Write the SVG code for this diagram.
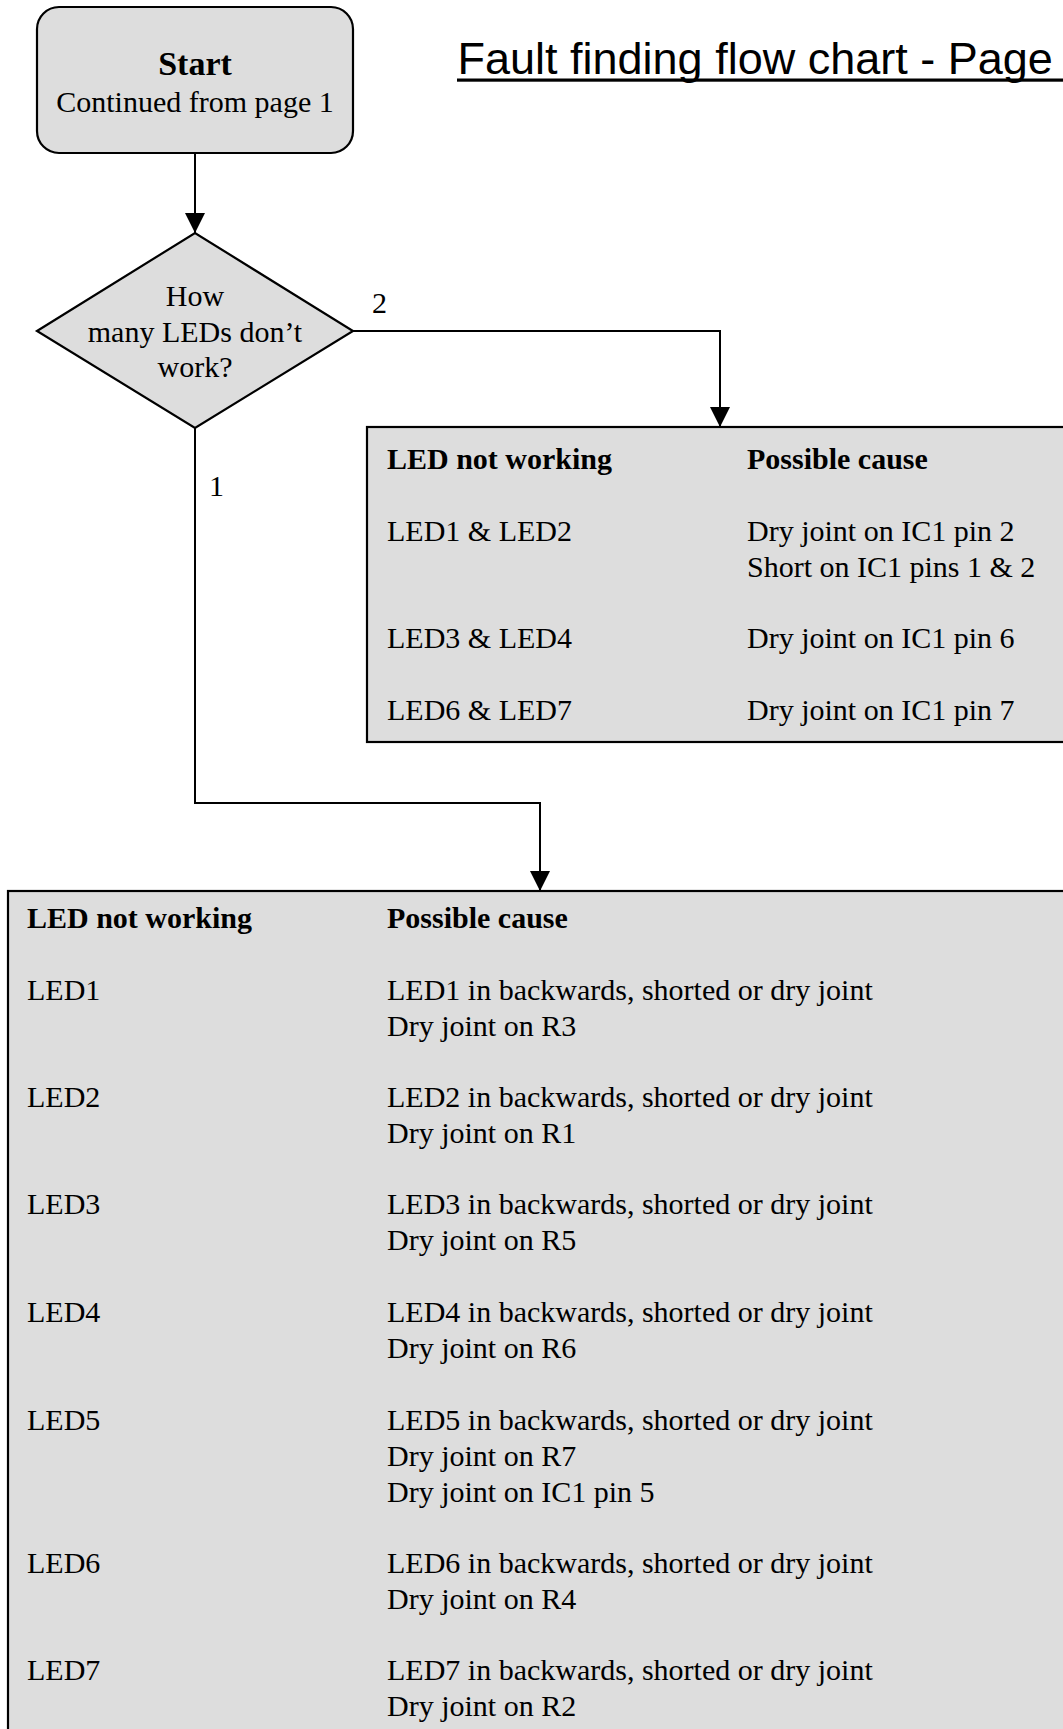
<svg xmlns="http://www.w3.org/2000/svg" width="1063" height="1729" viewBox="0 0 1063 1729">
<defs>
<style>
.shape{fill:#dddddd;stroke:#000;stroke-width:2.2}
.t{font-family:"Liberation Serif","Times New Roman",serif;font-size:30px;fill:#000}
.b{font-weight:bold}
.big{font-size:34px}
.c{text-anchor:middle}
.conn{fill:none;stroke:#000;stroke-width:2}
.title{font-family:"Liberation Sans",Arial,sans-serif;font-size:45px;fill:#000}
</style>
<marker id="arr" viewBox="0 0 20 20" refX="20" refY="10" markerWidth="20" markerHeight="20" markerUnits="userSpaceOnUse" orient="auto">
<path d="M0,0 L20,10 L0,20 z" fill="#000"/>
</marker>
</defs>
<rect width="1063" height="1729" fill="#fff"/>
<g id="title">
<text class="title" x="457.5" y="74">Fault finding flow chart - Page</text>
<rect x="457" y="78.5" width="620" height="3.2" fill="#000"/>
</g>
<g id="start">
<rect class="shape" x="37" y="7" width="316" height="146" rx="22" ry="22"/>
<text class="t b c big" x="195" y="75">Start</text>
<text class="t c" x="195" y="112">Continued from page 1</text>
</g>
<g id="decision">
<polygon class="shape" points="37,331 195,233 353,331 195,428"/>
<text class="t c" x="195" y="306">How</text>
<text class="t c" x="195" y="342">many LEDs don’t</text>
<text class="t c" x="195" y="377">work?</text>
</g>
<g id="table-two">
<rect class="shape" x="367" y="427" width="720" height="315"/>
<text class="t b" x="387" y="469">LED not working</text>
<text class="t b" x="747" y="469">Possible cause</text>
<text class="t" x="387" y="541">LED1 &amp; LED2</text>
<text class="t" x="747" y="541">Dry joint on IC1 pin 2</text>
<text class="t" x="747" y="577">Short on IC1 pins 1 &amp; 2</text>
<text class="t" x="387" y="648">LED3 &amp; LED4</text>
<text class="t" x="747" y="648">Dry joint on IC1 pin 6</text>
<text class="t" x="387" y="720">LED6 &amp; LED7</text>
<text class="t" x="747" y="720">Dry joint on IC1 pin 7</text>
</g>
<g id="table-one">
<rect class="shape" x="8" y="891" width="1080" height="860"/>
<text class="t b" x="27" y="928">LED not working</text>
<text class="t b" x="387" y="928">Possible cause</text>
<text class="t" x="27" y="1000">LED1</text>
<text class="t" x="387" y="1000">LED1 in backwards, shorted or dry joint</text>
<text class="t" x="387" y="1036">Dry joint on R3</text>
<text class="t" x="27" y="1107">LED2</text>
<text class="t" x="387" y="1107">LED2 in backwards, shorted or dry joint</text>
<text class="t" x="387" y="1143">Dry joint on R1</text>
<text class="t" x="27" y="1214">LED3</text>
<text class="t" x="387" y="1214">LED3 in backwards, shorted or dry joint</text>
<text class="t" x="387" y="1250">Dry joint on R5</text>
<text class="t" x="27" y="1322">LED4</text>
<text class="t" x="387" y="1322">LED4 in backwards, shorted or dry joint</text>
<text class="t" x="387" y="1358">Dry joint on R6</text>
<text class="t" x="27" y="1430">LED5</text>
<text class="t" x="387" y="1430">LED5 in backwards, shorted or dry joint</text>
<text class="t" x="387" y="1466">Dry joint on R7</text>
<text class="t" x="387" y="1502">Dry joint on IC1 pin 5</text>
<text class="t" x="27" y="1573">LED6</text>
<text class="t" x="387" y="1573">LED6 in backwards, shorted or dry joint</text>
<text class="t" x="387" y="1609">Dry joint on R4</text>
<text class="t" x="27" y="1680">LED7</text>
<text class="t" x="387" y="1680">LED7 in backwards, shorted or dry joint</text>
<text class="t" x="387" y="1716">Dry joint on R2</text>
</g>
<g id="connectors">
<path class="conn" d="M195,153 L195,233" marker-end="url(#arr)"/>
<path class="conn" d="M353,331 L720,331 L720,427" marker-end="url(#arr)"/>
<path class="conn" d="M195,428 L195,803 L540,803 L540,891" marker-end="url(#arr)"/>
<text class="t" x="372" y="313">2</text>
<text class="t" x="209" y="496">1</text>
</g>
</svg>
